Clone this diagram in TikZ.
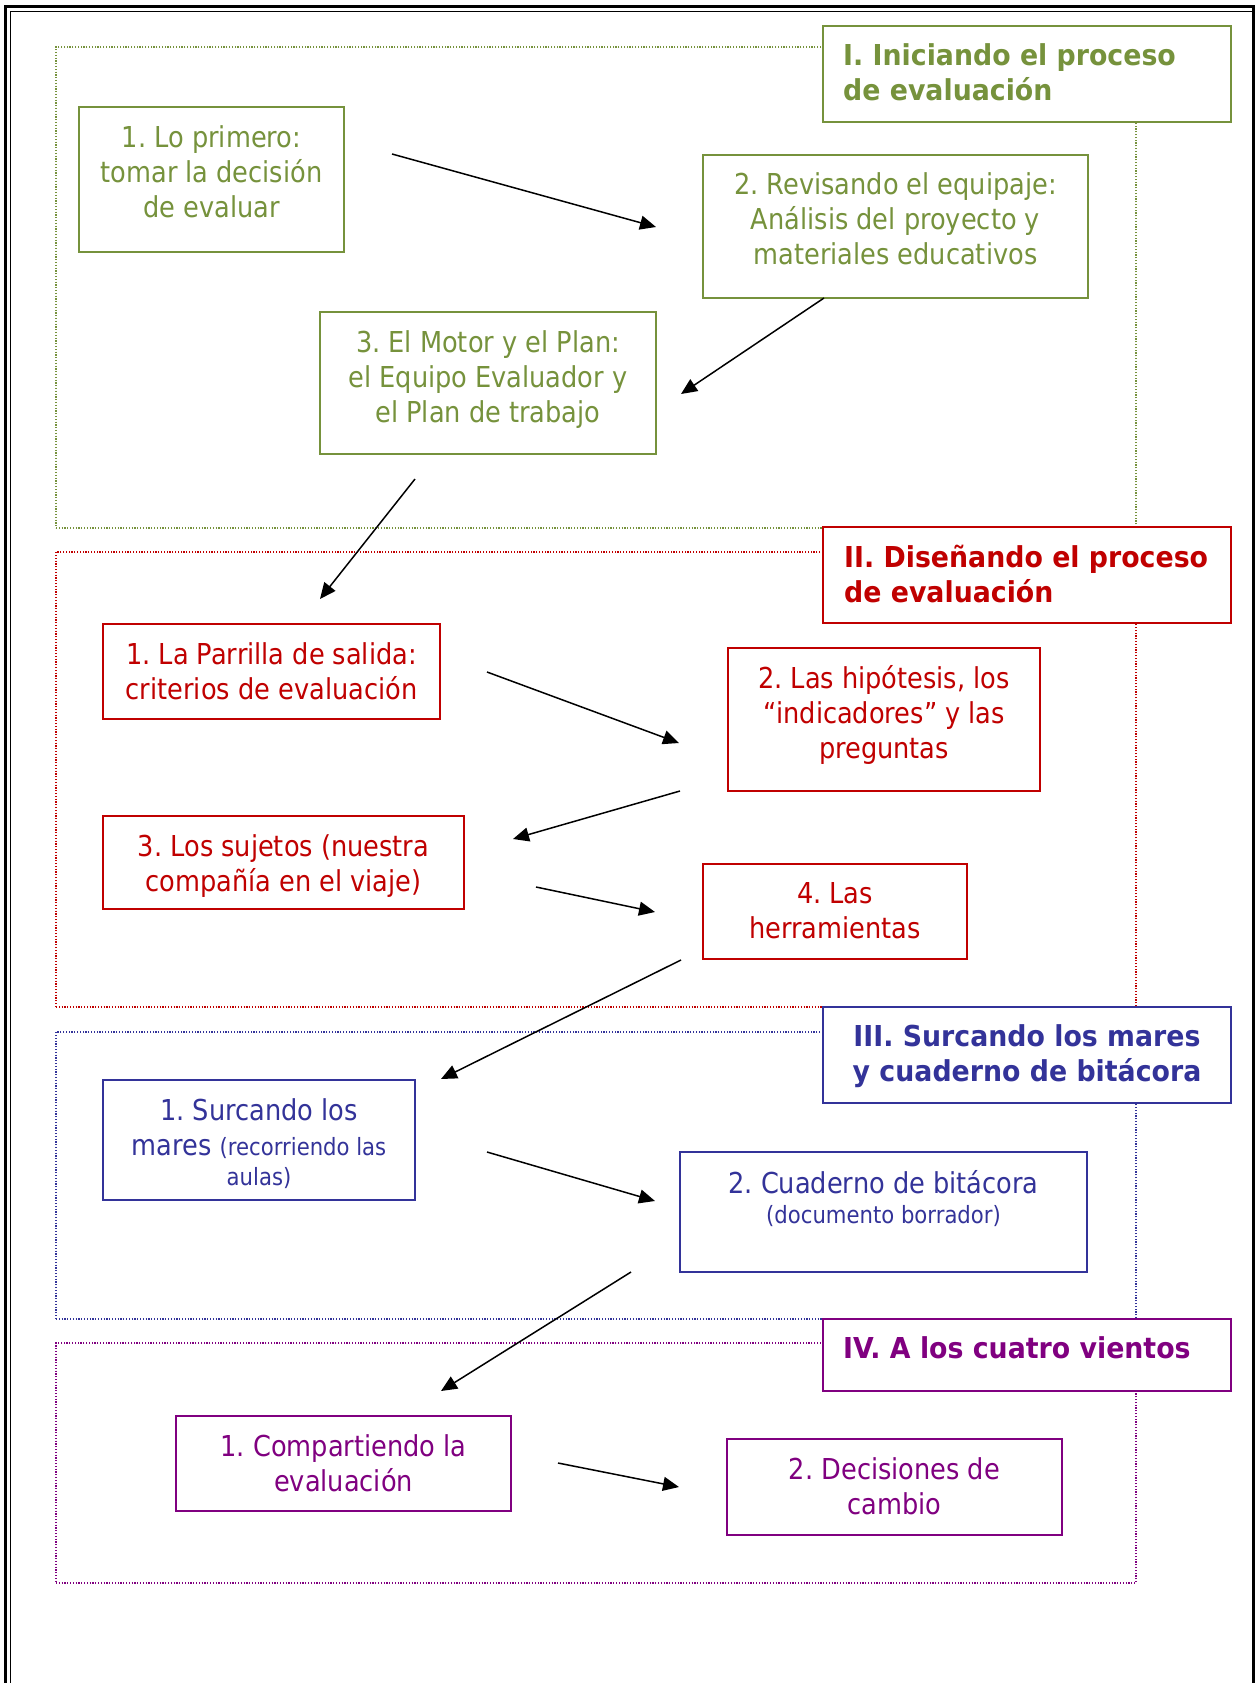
\documentclass[tikz,border=0pt]{standalone}
\usepackage{fontspec}
\setmainfont{DejaVu Sans}[FakeStretch=0.89]
\newfontfamily\titlefont{DejaVu Sans}[FakeStretch=0.93]
\usepackage{xcolor}
\usepackage{tikz}
\usetikzlibrary{arrows.meta, positioning}
\definecolor{inicolor}{RGB}{118,146,60}
\definecolor{discolor}{RGB}{192,0,0}
\definecolor{marcolor}{RGB}{51,51,153}
\definecolor{viencolor}{RGB}{128,0,128}
\newcommand{\smalltxt}{\fontsize{23.8}{29}\selectfont}
\frenchspacing

\begin{document}
\begin{tikzpicture}[
    x=1pt, y=-1pt,
    sect/.style={draw, line width=1.2pt, dash pattern=on 1.2pt off 1.6pt, inner sep=0pt},
    ttlbox/.style={draw, fill=white, line width=2pt, inner sep=0pt, minimum width=408pt},
    stepbox/.style={draw, fill=white, line width=2pt, inner sep=0pt},
    txt/.style={align=center, inner sep=0pt, font=\fontsize{28.8}{35}\selectfont},
    ttl/.style={align=left, inner sep=0pt, font=\titlefont\bfseries\fontsize{28.8}{35}\selectfont},
    flow/.style={-{Triangle[length=16pt, width=14pt]}, line width=1.5pt}
]
    \useasboundingbox (0,0) rectangle (1255,1683);

    % page frame
    \draw[line width=3pt] (5.5,1683) -- (5.5,7) -- (1255,7);
    \draw[line width=3pt] (1253.5,7) -- (1253.5,1683);
    \draw[line width=1pt] (10.5,1683) -- (10.5,11.5) -- (1252,11.5);

    % Sections (dotted frames)
    \node[sect, draw=inicolor, minimum width=1080pt, minimum height=481pt] (s1) at (596,287.5) {};
    \node[sect, draw=discolor, minimum width=1080pt, minimum height=455pt] (s2) at (596,779.5) {};
    \node[sect, draw=marcolor, minimum width=1080pt, minimum height=287pt] (s3) at (596,1175.5) {};
    \node[sect, draw=viencolor, minimum width=1080pt, minimum height=240pt] (s4) at (596,1463) {};

    % Section titles
    \node[ttlbox, draw=inicolor, minimum height=96pt] (t1) at (1027,74) {};
    \node[ttl, text=inicolor, below right=18.5pt and 21pt of t1.north west] (t1t) {I. Iniciando el proceso\\de evaluación};
    \node[ttlbox, draw=discolor, minimum height=96pt] (t2) at (1027,575) {};
    \node[ttl, text=discolor, below right=18.5pt and 22pt of t2.north west] (t2t) {II. Diseñando el proceso\\de evaluación};
    \node[ttlbox, draw=marcolor, minimum height=96pt] (t3) at (1027,1055) {};
    \node[ttl, text=marcolor, align=center, below=18.5pt of t3.north] (t3t) {III. Surcando los mares\\y cuaderno de bitácora};
    \node[ttlbox, draw=viencolor, minimum height=72pt] (t4) at (1027,1355) {};
    \node[ttl, text=viencolor, below right=18.5pt and 21pt of t4.north west] (t4t) {IV. A los cuatro vientos};

    % I. Iniciando
    \node[stepbox, draw=inicolor, minimum width=265pt, minimum height=145pt] (g1) at (211.5,179.5) {};
    \node[txt, text=inicolor, below=19pt of g1.north] (g1t) {1. Lo primero:\\tomar la decisión\\de evaluar};
    \node[stepbox, draw=inicolor, minimum width=385pt, minimum height=143pt] (g2) at (895.5,226.5) {};
    \node[txt, text=inicolor, below=18pt of g2.north] (g2t) {2. Revisando el equipaje:\\Análisis del proyecto y\\materiales educativos};
    \node[stepbox, draw=inicolor, minimum width=336pt, minimum height=142pt] (g3) at (488,383) {};
    \node[txt, text=inicolor, below=19pt of g3.north] (g3t) {3. El Motor y el Plan:\\el Equipo Evaluador y\\el Plan de trabajo};

    % II. Disenando
    \node[stepbox, draw=discolor, minimum width=337pt, minimum height=95pt] (r1) at (271.5,671.5) {};
    \node[txt, text=discolor, below=19pt of r1.north] (r1t) {1. La Parrilla de salida:\\criterios de evaluación};
    \node[stepbox, draw=discolor, minimum width=312pt, minimum height=143pt] (r2) at (884,719.5) {};
    \node[txt, text=discolor, below=18pt of r2.north] (r2t) {2. Las hipótesis, los\\“indicadores” y las\\preguntas};
    \node[stepbox, draw=discolor, minimum width=361pt, minimum height=93pt] (r3) at (283.5,862.5) {};
    \node[txt, text=discolor, below=19pt of r3.north] (r3t) {3. Los sujetos (nuestra\\compañía en el viaje)};
    \node[stepbox, draw=discolor, minimum width=264pt, minimum height=95pt] (r4) at (835,911.5) {};
    \node[txt, text=discolor, below=19pt of r4.north] (r4t) {4. Las\\herramientas};

    % III. Surcando los mares
    \node[stepbox, draw=marcolor, minimum width=312pt, minimum height=120pt] (b1) at (259,1140) {};
    \node[txt, text=marcolor, below=19pt of b1.north] (b1t) {1. Surcando los\\mares {\smalltxt (recorriendo las}\\[-5pt]{\smalltxt aulas)}};
    \node[stepbox, draw=marcolor, minimum width=407pt, minimum height=120pt] (b2) at (883.5,1212) {};
    \node[txt, text=marcolor, below=19pt of b2.north] (b2t) {2. Cuaderno de bitácora\\[-5pt]{\smalltxt (documento borrador)}};

    % IV. A los cuatro vientos
    \node[stepbox, draw=viencolor, minimum width=335pt, minimum height=95pt] (p1) at (343.5,1463.5) {};
    \node[txt, text=viencolor, below=19pt of p1.north] (p1t) {1. Compartiendo la\\evaluación};
    \node[stepbox, draw=viencolor, minimum width=335pt, minimum height=96pt] (p2) at (894.5,1487) {};
    \node[txt, text=viencolor, below=19pt of p2.north] (p2t) {2. Decisiones de\\cambio};

    % arrow ends
    \coordinate (a1s) at (392,154);   \coordinate (a1e) at (656,227);
    \coordinate (a2s) at (824,298);   \coordinate (a2e) at (681,394);
    \coordinate (a3s) at (415,479);   \coordinate (a3e) at (320,599);
    \coordinate (a4s) at (487,672);   \coordinate (a4e) at (679,743);
    \coordinate (a5s) at (680,791);   \coordinate (a5e) at (513,839);
    \coordinate (a6s) at (536,887);   \coordinate (a6e) at (655,912);
    \coordinate (a7s) at (681,960);   \coordinate (a7e) at (441,1079);
    \coordinate (a8s) at (487,1152);  \coordinate (a8e) at (655,1201);
    \coordinate (a9s) at (631,1272);  \coordinate (a9e) at (441,1391);
    \coordinate (a10s) at (558,1463); \coordinate (a10e) at (679,1487);

    % Flows
    \foreach \i in {1,...,10}
        \draw[flow] (a\i s) -- (a\i e);

\end{tikzpicture}
\end{document}
